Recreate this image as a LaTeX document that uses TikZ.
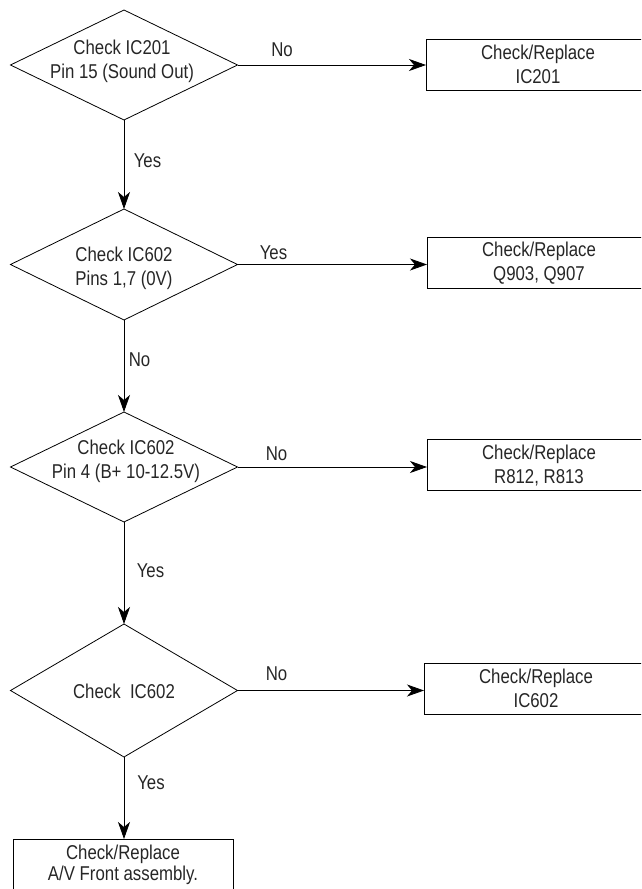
\documentclass[tikz,border=0pt]{standalone}
\usepackage{fontspec}
\setmainfont{Liberation Sans}[FakeStretch=0.84]
\usetikzlibrary{shapes.geometric,arrows.meta}
\newcommand\stx{\rule[-2pt]{0pt}{18pt}}
\begin{document}
\begin{tikzpicture}[x=1pt,y=-1pt,
  every node/.style={font=\fontsize{20}{24}\selectfont, inner sep=0pt, outer sep=0pt, text=black!85},
  dia/.style={draw, diamond, minimum width=227pt, line width=0.8pt},
  box/.style={draw, rectangle, minimum width=224pt, minimum height=51pt, align=center, line width=0.8pt},
  txt/.style={align=center},
  lab/.style={},
  arr/.style={line width=0.8pt, -{Stealth[length=17pt,width=12pt,inset=5pt]}}]
\useasboundingbox (0,0) rectangle (641,889);
\clip (0,0) rectangle (641,889);
% decisions
\node[dia, minimum height=110pt] (d1) at (124,65) {};
\node[txt] (d1t) at (122,61) {\stx Check IC201\\\stx Pin 15 (Sound Out)};
\node[dia, minimum height=111pt] (d2) at (124,264.5) {};
\node[txt] (d2t) at (124,268) {\stx Check IC602\\\stx Pins 1,7 (0V)};
\node[dia, minimum height=110pt] (d3) at (124,467) {};
\node[txt] (d3t) at (126,461) {\stx Check IC602\\\stx Pin 4 (B+ 10-12.5V)};
\node[dia, minimum height=133pt] (d4) at (124,690.5) {};
\node[txt] (d4t) at (124,691) {\stx Check\ \ IC602};
% actions
\node[box] (b1) at (538,64.5) {\stx Check/Replace\\\stx IC201};
\node[box] (b2) at (539,262.5) {\stx Check/Replace\\\stx Q903, Q907};
\node[box] (b3) at (539,464.5) {\stx Check/Replace\\\stx R812, R813};
\node[box] (b4) at (536,688.5) {\stx Check/Replace\\\stx IC602};
\node[box, minimum width=220pt, font=\fontsize{20}{21}\selectfont] (b5) at (123,864.5) {\stx Check/Replace\\\stx A/V Front assembly.};
% connectors
\draw[arr] (d1.east) -- (d1.east -| b1.west);
\draw[arr] (d1.south) -- (d2.north);
\draw[arr] (d2.east) -- (d2.east -| b2.west);
\draw[arr] (d2.south) -- (d3.north);
\draw[arr] (d3.east) -- (d3.east -| b3.west);
\draw[arr] (d3.south) -- (d4.north);
\draw[arr] (d4.east) -- (d4.east -| b4.west);
\draw[arr] (d4.south) -- (d4.south |- b5.north);
% labels
\node[lab] (l1) at (282,50) {No};
\node[lab] (l2) at (147.5,161) {Yes};
\node[lab] (l3) at (273.5,252.5) {Yes};
\node[lab] (l4) at (139.5,360) {No};
\node[lab] (l5) at (276.5,453.5) {No};
\node[lab] (l6) at (150.5,570.5) {Yes};
\node[lab] (l7) at (276.5,674) {No};
\node[lab] (l8) at (151,782.5) {Yes};
\end{tikzpicture}
\end{document}
